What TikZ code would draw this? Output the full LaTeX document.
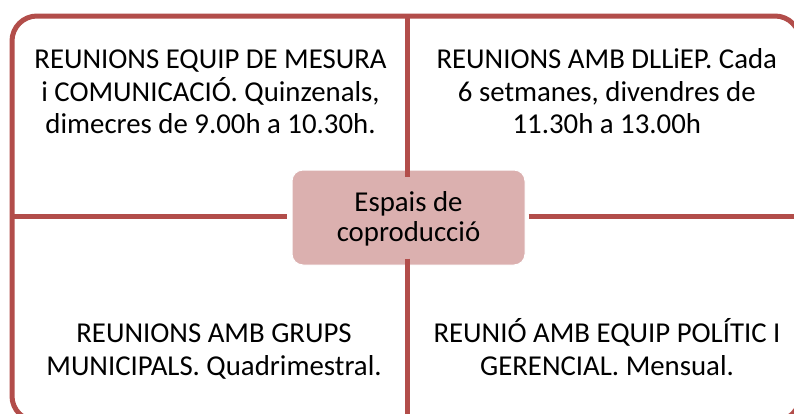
\documentclass[tikz,border=0pt]{standalone}
\usepackage{fontspec}
\setmainfont{Carlito}
\definecolor{brd}{RGB}{178,77,74}
\definecolor{boxfill}{RGB}{219,176,175}
\begin{document}
\begin{tikzpicture}[x=1pt,y=-1pt,
  frame/.style={draw=brd,line width=5pt,rounded corners=25pt},
  cross/.style={draw=brd,line width=5.5pt},
  hub/.style={fill=boxfill,draw=white,line width=1pt,rounded corners=11pt,minimum width=233pt,minimum height=95pt,inner sep=0pt},
  txt/.style={align=center,inner sep=0pt,anchor=base,font=\fontsize{28.8}{32.2}\selectfont}]
\useasboundingbox (0,0) rectangle (794,413);
\begin{scope}
\clip (0,0) rectangle (794,413);
\draw[frame] (12,16) rectangle (800,421);
\coordinate (top) at (407.5,16);
\coordinate (bot) at (407.5,421);
\coordinate (lft) at (12,216.5);
\coordinate (rgt) at (800,216.5);
\node[hub] (hubnode) at (408.5,217.5) {};
\draw[cross] (top) -- ([yshift=-7pt]hubnode.north -| top);
\draw[cross] ([yshift=7pt]hubnode.south -| bot) -- (bot);
\draw[cross] (lft) -- ([xshift=-5pt]hubnode.west |- lft);
\draw[cross] ([xshift=3pt]hubnode.east |- rgt) -- (rgt);
\end{scope}
\node[txt,font=\fontsize{28.8}{30.7}\selectfont] (hubtext) at (408.5,241.7) {Espais de\\coproducció};
\node[txt] (tl) at (210.5,133.3) {REUNIONS EQUIP DE MESURA\\i COMUNICACIÓ. Quinzenals,\\dimecres de 9.00h a 10.30h.};
\node[txt] (tr) at (606.8,133.3) {REUNIONS AMB DLLiEP. Cada\\6 setmanes, divendres de\\11.30h a 13.00h};
\node[txt] (bl) at (214,375) {REUNIONS AMB GRUPS\\MUNICIPALS. Quadrimestral.};
\node[txt] (br) at (607,375) {REUNIÓ AMB EQUIP POLÍTIC I\\GERENCIAL. Mensual.};
\end{tikzpicture}
\end{document}
